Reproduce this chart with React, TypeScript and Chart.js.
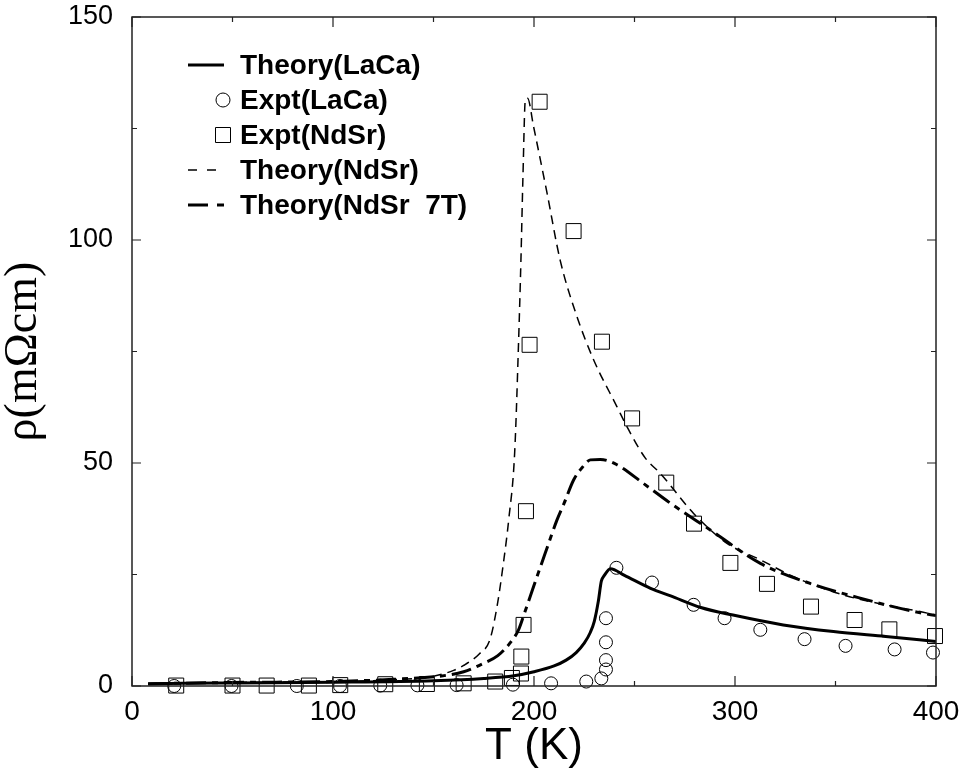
import React, { useEffect, useRef } from 'react';
import { Chart, registerables } from 'chart.js';
Chart.register(...registerables);

// Theory(LaCa) curve
const theoryLaCaT = [8, 25, 50, 100, 150, 175, 190, 200, 210, 216, 221, 225, 228, 230, 232, 233.5, 235, 238, 245, 258, 268, 283, 299, 324, 349, 375, 400];
const theoryLaCaR = [0.45, 0.6, 0.7, 0.85, 1.2, 1.7, 2.3, 3.2, 4.5, 5.8, 7.5, 9.6, 12, 14.5, 19, 23.5, 24.8, 26.3, 24.8, 21.9, 20.2, 17.6, 15.9, 13.7, 12.2, 11.1, 10.0];

// Expt(LaCa) circles
const exptLaCaT = [21, 49.5, 82, 103.5, 123.5, 142, 161.5, 189.5, 208.5, 226, 233.5, 235.8, 235.8, 235.8, 235.8, 241, 258.7, 279.4, 294.8, 312.6, 334.6, 355, 379.4, 398.5];
const exptLaCaR = [0, 0, 0, 0, 0.1, 0.15, 0.2, 0.3, 0.6, 1.0, 1.7, 3.7, 5.8, 9.8, 15.2, 26.5, 23.2, 18.2, 15.2, 12.6, 10.5, 9.0, 8.2, 7.5];

// Expt(NdSr) squares
const exptNdSrT = [22, 50, 67, 88, 103.6, 126, 146.7, 165, 180.7, 189, 193.5, 193.7, 194.8, 196, 197.8, 202.8, 219.7, 233.8, 248.8, 265.8, 279.6, 297.7, 315.9, 337.8, 359.5, 376.8, 399.5];
const exptNdSrR = [0.1, 0.1, 0.1, 0.1, 0.2, 0.4, 0.45, 0.6, 1.0, 1.8, 2.8, 6.6, 13.7, 39.2, 76.5, 131, 102, 77.2, 60, 45.6, 36.4, 27.6, 22.9, 17.8, 14.8, 12.7, 11.2];

// Theory(NdSr) curve
const theoryNdSrT = [8, 50, 100, 130, 150, 160, 165, 173, 178, 181.6, 185, 187.4, 190.4, 192.3, 193.5, 194.5, 195.7, 196.8, 199.8, 206.5, 213, 221.4, 229.7, 241.3, 246.3, 255.4, 262.8, 279.4, 296, 312.6, 329.2, 354, 379, 392, 400];
const theoryNdSrR = [0.5, 0.8, 1.0, 1.4, 2.2, 3.5, 4.6, 7.3, 10.3, 17.8, 28.3, 37.2, 52.5, 76.8, 95.5, 114.2, 131.5, 131.8, 125.4, 110.5, 95.5, 82.8, 73.1, 62.6, 58.1, 51.1, 47.7, 38.7, 32, 28.3, 24.5, 20.4, 17.8, 16.7, 15.9];

// Theory(NdSr 7T) curve
const theory7TT = [8, 50, 100, 130, 153, 165, 175, 182, 188, 192.3, 195, 199.8, 205.6, 211.4, 215, 219.7, 224, 228, 233, 241.3, 254.5, 267.8, 287.7, 312.6, 337.4, 362.3, 392.2, 400];
const theory7TR = [0.5, 0.8, 1.0, 1.5, 2.2, 3.2, 5.1, 6.8, 9.6, 12.6, 16, 22.3, 29.8, 37.2, 41, 46.2, 49, 50.7, 50.8, 49.6, 45.4, 41, 35, 27.5, 23, 19.7, 16.4, 15.8];

const seriesLabels = ['Theory(LaCa)', 'Expt(LaCa)', 'Expt(NdSr)', 'Theory(NdSr)', 'Theory(NdSr  7T)'];

const xMajorTicks = [0, 100, 200, 300, 400];
const xMinorTicks = [50, 150, 250, 350];
const yMajorTicks = [0, 50, 100, 150];
const yMinorTicks = [25, 75, 125];

const pts = (xs: number[], ys: number[]) => xs.map((x, i) => ({ x, y: ys[i] }));

const frameTicks = {
  id: 'frameTicks',
  afterDatasetsDraw(chart: any) {
    const { ctx, chartArea: a, scales } = chart;
    const x = scales.x, y = scales.y;
    ctx.save();
    ctx.strokeStyle = '#222';
    ctx.lineWidth = 1.5;
    ctx.setLineDash([]);
    ctx.strokeRect(a.left, a.top, a.right - a.left, a.bottom - a.top);
    ctx.lineWidth = 1.2;
    const vt = (v: number, len: number) => {
      const px = x.getPixelForValue(v);
      ctx.beginPath();
      ctx.moveTo(px, a.bottom); ctx.lineTo(px, a.bottom - len);
      ctx.moveTo(px, a.top); ctx.lineTo(px, a.top + len);
      ctx.stroke();
    };
    const ht = (v: number, len: number) => {
      const py = y.getPixelForValue(v);
      ctx.beginPath();
      ctx.moveTo(a.left, py); ctx.lineTo(a.left + len, py);
      ctx.moveTo(a.right, py); ctx.lineTo(a.right - len, py);
      ctx.stroke();
    };
    xMajorTicks.forEach(v => vt(v, 10));
    xMinorTicks.forEach(v => vt(v, 5));
    yMajorTicks.forEach(v => ht(v, 9));
    yMinorTicks.forEach(v => ht(v, 5));
    ctx.restore();
  },
};

const insideLegend = {
  id: 'insideLegend',
  afterDraw(chart: any) {
    const { ctx } = chart;
    const ds = chart.data.datasets;
    ctx.save();
    ctx.font = 'bold 28px "Liberation Sans", Arial, sans-serif';
    ctx.textBaseline = 'middle';
    ctx.fillStyle = '#000';
    const x0 = 188, x1 = 224, tx = 240, y0 = 65, dy = 35;
    ds.forEach((d: any, i: number) => {
      const yy = y0 + i * dy;
      ctx.strokeStyle = '#000';
      if (d.showLine) {
        ctx.lineWidth = d.borderWidth;
        ctx.setLineDash(d.legendDash || []);
        ctx.beginPath();
        ctx.moveTo(x0, yy); ctx.lineTo(x1, yy);
        ctx.stroke();
        ctx.setLineDash([]);
      } else {
        ctx.lineWidth = 1;
        ctx.beginPath();
        if (d.pointStyle === 'circle') {
          ctx.arc(223, yy, 7, 0, Math.PI * 2);
        } else {
          ctx.rect(223 - 7.5, yy - 7.5, 15, 15);
        }
        ctx.stroke();
      }
      ctx.fillText(d.label, tx, yy + 1);
    });
    ctx.restore();
  },
};

export default function App() {
  const ref = useRef<HTMLCanvasElement>(null);
  useEffect(() => {
    document.body.style.margin = '0';
    const canvas = ref.current!;
    const curve = (label: string, xs: number[], ys: number[], w: number, dash: number[], legendDash: number[]) => ({
      label, data: pts(xs, ys), showLine: true, pointRadius: 0, borderColor: '#000', borderWidth: w,
      borderDash: dash, legendDash, cubicInterpolationMode: 'monotone', fill: false,
    });
    const marks = (label: string, xs: number[], ys: number[], style: string, r: number) => ({
      label, data: pts(xs, ys), showLine: false, pointStyle: style, pointRadius: r, pointBorderWidth: 1,
      borderColor: '#000', backgroundColor: 'rgba(0,0,0,0)', pointBackgroundColor: 'rgba(0,0,0,0)',
      pointBorderColor: '#000', clip: false,
    });
    const chart = new Chart(canvas, {
      type: 'scatter',
      data: {
        datasets: [
          curve(seriesLabels[0], theoryLaCaT, theoryLaCaR, 3, [], []),
          marks(seriesLabels[1], exptLaCaT, exptLaCaR, 'circle', 6.5),
          marks(seriesLabels[2], exptNdSrT, exptNdSrR, 'rect', 10.6),
          curve(seriesLabels[3], theoryNdSrT, theoryNdSrR, 1.5, [9, 6], [9, 10]),
          curve(seriesLabels[4], theory7TT, theory7TR, 3, [20, 6, 6, 6], [20, 9, 7, 10]),
        ] as any,
      },
      options: {
        responsive: false,
        animation: false,
        events: [],
        layout: { padding: { top: 17, right: 27, left: 0, bottom: 0 } },
        plugins: { legend: { display: false }, tooltip: { enabled: false } },
        scales: {
          x: {
            type: 'linear', min: 0, max: 400,
            grid: { display: false, drawTicks: false },
            border: { display: false },
            ticks: { stepSize: 100, color: '#000', padding: 9, font: { family: '"Liberation Sans", Arial, sans-serif', size: 28 } },
            title: { display: true, text: 'T (K)', color: '#000', padding: { top: 0, bottom: 0 }, font: { family: '"Liberation Sans", Arial, sans-serif', size: 44, lineHeight: 1.2 } },
            afterFit: (s: any) => { s.height = 87; s.paddingLeft = 0; s.paddingRight = 0; },
          },
          y: {
            type: 'linear', min: 0, max: 150,
            grid: { display: false, drawTicks: false },
            border: { display: false },
            ticks: { stepSize: 50, color: '#000', padding: 19, font: { family: '"Liberation Sans", Arial, sans-serif', size: 27 } },
            title: { display: true, text: 'ρ(mΩcm)', color: '#000', padding: { top: 1, bottom: 0 }, font: { family: '"Liberation Serif", "Times New Roman", serif', size: 46, lineHeight: 1.0 } },
            afterFit: (s: any) => { s.width = 132; s.paddingTop = 0; s.paddingBottom = 0; },
          },
        },
      } as any,
      plugins: [frameTicks, insideLegend],
    });
    return () => chart.destroy();
  }, []);
  return (
    <div style={{ width: 963, height: 773 }}>
      <canvas ref={ref} width={963} height={773} style={{ display: 'block' }} />
    </div>
  );
}
